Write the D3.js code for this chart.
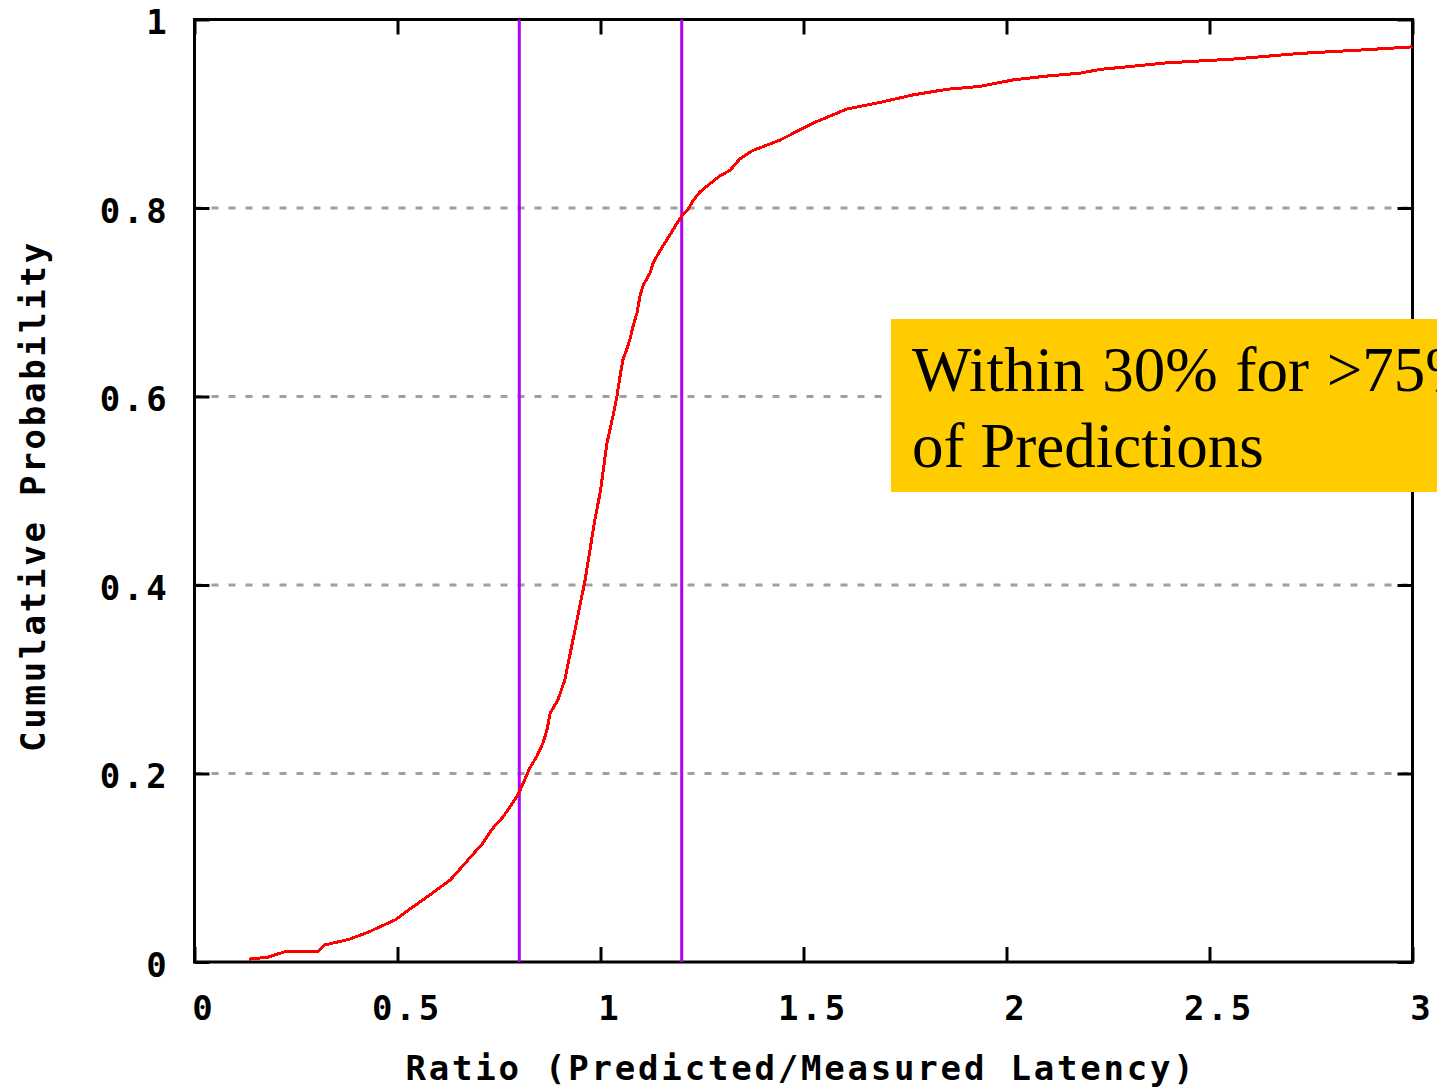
<!DOCTYPE html>
<html>
<head>
<meta charset="utf-8">
<script src="https://cdn.jsdelivr.net/npm/d3@7"></script>
<style>
  body { margin: 0; background: #fff; }
</style>
</head>
<body>
<div id="chartContainer"></div>
<script>
// Ratio values (x) and their cumulative probability (y)
var ratioValues = [
  0.134, 0.18, 0.223, 0.304, 0.32, 0.38, 0.43, 0.46, 0.496, 0.52,
  0.563, 0.63, 0.708, 0.735, 0.76, 0.795, 0.81, 0.826, 0.843, 0.858,
  0.868, 0.876, 0.895, 0.912, 0.937, 0.962, 0.986, 1.0, 1.016, 1.023,
  1.031, 1.04, 1.048, 1.055, 1.064, 1.072, 1.08, 1.09, 1.097, 1.105,
  1.122, 1.13, 1.147, 1.163, 1.179, 1.19, 1.203, 1.215, 1.228, 1.245,
  1.27, 1.294, 1.319, 1.343, 1.375, 1.442, 1.523, 1.607, 1.688, 1.77,
  1.854, 1.935, 2.017, 2.1, 2.18, 2.23, 2.395, 2.558, 2.723, 2.888, 3.0
];
var cumProb = [
  0.003, 0.005, 0.011, 0.011, 0.018, 0.024, 0.032, 0.038, 0.045, 0.053,
  0.066, 0.087, 0.125, 0.142, 0.154, 0.176, 0.19, 0.206, 0.218, 0.232,
  0.246, 0.264, 0.278, 0.299, 0.352, 0.405, 0.469, 0.5, 0.551, 0.564,
  0.58, 0.599, 0.621, 0.639, 0.649, 0.66, 0.674, 0.689, 0.706, 0.718,
  0.731, 0.742, 0.755, 0.766, 0.777, 0.785, 0.793, 0.798, 0.808, 0.817,
  0.826, 0.834, 0.84, 0.852, 0.861, 0.872, 0.89, 0.905, 0.912, 0.92,
  0.926, 0.929, 0.936, 0.94, 0.943, 0.947, 0.954, 0.958, 0.964, 0.968, 0.971
];
// The two bounds marked with vertical lines
var boundValues = [0.8, 1.2];
// Tick labels
var xTicks = [0, 0.5, 1, 1.5, 2, 2.5, 3];
var yTicks = [0, 0.2, 0.4, 0.6, 0.8, 1];
var gridTicks = [0.2, 0.4, 0.6, 0.8];
var xTitle = 'Ratio (Predicted/Measured Latency)';
var yTitle = 'Cumulative Probability';
var noteLines = ['Within 30% for >75%', 'of Predictions'];

var width = 1437, height = 1091;
var monoFont = "'DejaVu Sans Mono', monospace";

var svg = d3.select('#chartContainer').append('svg')
  .attr('width', width)
  .attr('height', height);

// Scales for the plot area
var x = d3.scaleLinear().domain([0, 3]).range([194.5, 1412.5]);
var y = d3.scaleLinear().domain([0, 1]).range([962, 19.5]);

// Dashed grey grid lines
svg.selectAll('.grid')
  .data(gridTicks)
  .enter()
  .append('line')
  .attr('class', 'grid')
  .attr('x1', x(0))
  .attr('x2', x(3))
  .attr('y1', function(d) { return y(d); })
  .attr('y2', function(d) { return y(d); })
  .style('stroke', '#a0a0a0')
  .style('stroke-width', 3)
  .style('stroke-dasharray', '7,10');

// Axes with inward ticks on all four sides
function styleAxis(g) {
  g.select('.domain').remove();
  g.selectAll('line').style('stroke', '#000').style('stroke-width', 3);
  g.selectAll('text')
    .attr('font-family', null)
    .style('font-family', monoFont)
    .style('font-weight', 'bold')
    .style('font-size', '34px')
    .style('letter-spacing', '2.8px')
    .style('fill', '#000');
}

svg.append('g')
  .attr('transform', 'translate(0,' + y(0) + ')')
  .call(d3.axisBottom(x).tickValues(xTicks).tickSize(-15).tickFormat(d3.format('')))
  .call(styleAxis)
  .selectAll('text')
  .attr('dy', null)
  .attr('y', 58)
  .attr('x', 9);

svg.append('g')
  .attr('transform', 'translate(' + x(0) + ',0)')
  .call(d3.axisLeft(y).tickValues(yTicks).tickSize(-15).tickFormat(d3.format('')))
  .call(styleAxis)
  .selectAll('text')
  .attr('dy', null)
  .attr('y', 14)
  .attr('x', -25)
  .style('text-anchor', 'end');

svg.append('g')
  .attr('transform', 'translate(0,' + y(1) + ')')
  .call(d3.axisTop(x).tickValues(xTicks).tickSize(-15).tickFormat(''))
  .call(styleAxis);

svg.append('g')
  .attr('transform', 'translate(' + x(3) + ',0)')
  .call(d3.axisRight(y).tickValues(yTicks).tickSize(-15).tickFormat(''))
  .call(styleAxis);

// Plot border
svg.append('rect')
  .attr('x', x(0))
  .attr('y', y(1))
  .attr('width', x(3) - x(0))
  .attr('height', y(0) - y(1))
  .style('fill', 'none')
  .style('stroke', '#000')
  .style('stroke-width', 3);

// Purple bound lines
svg.selectAll('.bound')
  .data(boundValues)
  .enter()
  .append('line')
  .attr('class', 'bound')
  .attr('x1', function(d) { return x(d); })
  .attr('x2', function(d) { return x(d); })
  .attr('y1', y(1))
  .attr('y2', y(0))
  .style('stroke', '#b000f5')
  .style('stroke-width', 3);

// The CDF curve
var points = ratioValues.map(function(v, i) { return [v, cumProb[i]]; });
var line = d3.line()
  .x(function(d) { return x(d[0]); })
  .y(function(d) { return y(d[1]); });

svg.append('path')
  .datum(points)
  .attr('d', line)
  .style('fill', 'none')
  .style('stroke', '#ff0000')
  .style('stroke-width', 3)
  .style('shape-rendering', 'crispEdges');

// Axis titles
svg.append('text')
  .attr('x', 801)
  .attr('y', 1080)
  .style('text-anchor', 'middle')
  .style('font-family', monoFont)
  .style('font-weight', 'bold')
  .style('font-size', '34px')
  .style('letter-spacing', '2.8px')
  .text(xTitle);

svg.append('text')
  .attr('transform', 'translate(45,496) rotate(-90)')
  .style('text-anchor', 'middle')
  .style('font-family', monoFont)
  .style('font-weight', 'bold')
  .style('font-size', '34px')
  .style('letter-spacing', '2.8px')
  .text(yTitle);

// Yellow note box, running off the right edge
svg.append('rect')
  .attr('x', 891)
  .attr('y', 319)
  .attr('width', 560)
  .attr('height', 173)
  .style('fill', '#ffcc00');

svg.selectAll('.note')
  .data(noteLines)
  .enter()
  .append('text')
  .attr('class', 'note')
  .attr('x', 912)
  .attr('y', function(d, i) { return 391 + i * 76; })
  .style('font-family', "'Liberation Serif', 'Times New Roman', serif")
  .style('font-size', '63px')
  .style('word-spacing', function(d, i) { return i === 0 ? '2px' : '0px'; })
  .style('fill', '#000')
  .text(function(d) { return d; });
</script>
</body>
</html>
